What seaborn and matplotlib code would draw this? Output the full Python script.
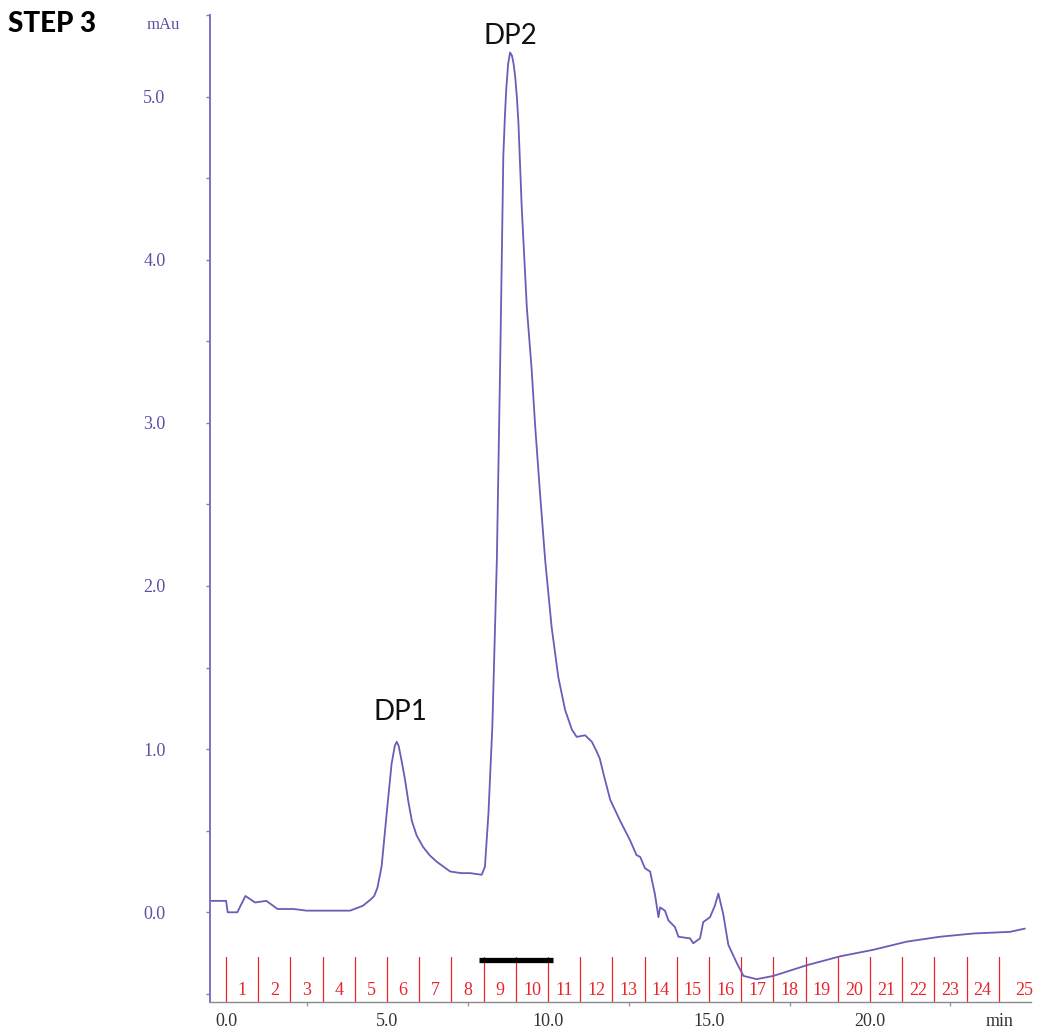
import matplotlib
matplotlib.use("Agg")
import matplotlib.pyplot as plt
import seaborn as sns
import pandas as pd

# Chromatogram trace: retention time (min) vs absorbance (mAu)
time_min = [-0.5, -0.05, 0.0, 0.05, 0.35, 0.6, 0.9, 1.25, 1.6, 2.1, 2.5, 3.0, 3.5, 3.85,
            4.25, 4.5, 4.6, 4.7, 4.83, 4.99, 5.14, 5.24, 5.30, 5.36, 5.45, 5.56, 5.66, 5.77,
            5.92, 6.12, 6.32, 6.54, 6.75, 6.96, 7.3, 7.58, 7.94, 8.04, 8.15, 8.27, 8.41,
            8.51, 8.54, 8.58, 8.61, 8.66, 8.70, 8.76, 8.82, 8.88, 8.93, 8.98, 9.03, 9.08,
            9.18, 9.34, 9.49, 9.60, 9.75, 9.91, 10.11, 10.32, 10.53, 10.74, 10.89, 11.15,
            11.36, 11.50, 11.61, 11.72, 11.93, 12.24, 12.55, 12.75, 12.86, 13.01, 13.17,
            13.32, 13.43, 13.48, 13.63, 13.74, 13.94, 14.05, 14.41, 14.51, 14.72, 14.82,
            15.03, 15.18, 15.29, 15.44, 15.60, 15.86, 16.07, 16.48, 17.0, 18.03, 19.07,
            20.1, 21.14, 22.17, 23.21, 24.35, 24.81]
absorbance = [0.07, 0.07, 0.07, 0.0, 0.0, 0.10, 0.06, 0.07, 0.02, 0.02, 0.01, 0.01, 0.01, 0.01,
              0.04, 0.08, 0.10, 0.15, 0.28, 0.61, 0.91, 1.02, 1.045, 1.02, 0.93, 0.81, 0.68, 0.56,
              0.47, 0.40, 0.35, 0.31, 0.28, 0.25, 0.24, 0.24, 0.23, 0.28, 0.61, 1.14, 2.16,
              3.33, 3.71, 4.23, 4.63, 4.88, 5.04, 5.20, 5.27, 5.25, 5.20, 5.12, 5.00, 4.84,
              4.33, 3.71, 3.33, 2.98, 2.57, 2.16, 1.75, 1.44, 1.24, 1.12, 1.075, 1.085,
              1.045, 0.99, 0.94, 0.85, 0.69, 0.56, 0.44, 0.35, 0.34, 0.27, 0.25,
              0.11, -0.03, 0.03, 0.01, -0.05, -0.09, -0.15, -0.16, -0.19, -0.16, -0.06,
              -0.03, 0.04, 0.115, -0.01, -0.20, -0.31, -0.39, -0.41, -0.39, -0.325, -0.27,
              -0.23, -0.18, -0.15, -0.13, -0.12, -0.10]

# Fraction collector boundaries (min) and fraction numbers
fraction_edges = list(range(0, 25)) + [25.6]
fraction_labels = [str(i) for i in range(1, 26)]

# Pooled fractions bar (min)
pool_start, pool_end = 7.85, 10.15

# Peak annotations: name, apex time, apex height
peak_names = ["DP1", "DP2"]
peak_times = [5.30, 8.82]
peak_heights = [1.045, 5.27]

x_ticks = [0.0, 5.0, 10.0, 15.0, 20.0]
y_ticks = [0.0, 1.0, 2.0, 3.0, 4.0, 5.0]

line_color = "#6a5cb8"
axis_purple = "#7f70c4"
label_purple = "#5a4fa6"
red = "#e8242c"
serif = ["Liberation Serif", "DejaVu Serif"]

sns.set_style("white")
fig = plt.figure(figsize=(10.37, 10.33), dpi=100)
ax = fig.add_axes([0.2025, 0.030, 0.7917, 0.9555])

df = pd.DataFrame({"time": time_min, "mAu": absorbance})
sns.lineplot(data=df, x="time", y="mAu", sort=False, estimator=None,
             color=line_color, linewidth=1.3, ax=ax)

ax.set_xlim(-0.5, 25.0)
ax.set_ylim(-0.55, 5.5)
ax.set_xlabel("")
ax.set_ylabel("")

for s in ["top", "right"]:
    ax.spines[s].set_visible(False)
ax.spines["left"].set_color(axis_purple)
ax.spines["left"].set_linewidth(1.4)
ax.spines["bottom"].set_color("#8a8a8a")
ax.spines["bottom"].set_linewidth(1.0)

ax.set_yticks(y_ticks)
ax.set_yticklabels([f"{v:.1f}" for v in y_ticks], fontfamily=serif, fontsize=13, color=label_purple)
ax.set_yticks([-0.5, 0.5, 1.5, 2.5, 3.5, 4.5, 5.5], minor=True)
ax.tick_params(axis="y", which="both", direction="out", length=3, width=1,
               color=axis_purple, pad=29, left=True)

ax.set_xticks(x_ticks)
ax.set_xticklabels([f"{v:.1f}" for v in x_ticks], fontfamily=serif, fontsize=13, color="#333333")
ax.set_xticks([2.5, 7.5, 12.5, 17.5, 22.5], minor=True)
ax.tick_params(axis="x", which="major", length=0, pad=8)
ax.tick_params(axis="x", which="minor", direction="out", length=3, width=1,
               color="#9a9a9a", bottom=True)
ax.grid(False)

# Fraction markers
for edge in fraction_edges[:-1]:
    ax.plot([edge, edge], [-0.55, -0.275], color=red, linewidth=0.9, zorder=1)
for i, lab in enumerate(fraction_labels):
    mid = (fraction_edges[i] + fraction_edges[i + 1]) / 2
    ax.text(mid, -0.48, lab, ha="center", va="center", color=red,
            fontfamily=serif, fontsize=13)

# Pooled fractions
ax.plot([pool_start, pool_end], [-0.293, -0.293], color="black", linewidth=3.8,
        solid_capstyle="butt", zorder=3)

# Peak labels above each apex
label_offsets = [(0.12, 0.18), (0.0, 0.10)]
for name, t, h, (dx, dy) in zip(peak_names, peak_times, peak_heights, label_offsets):
    ax.text(t + dx, h + dy, name, ha="center", va="center",
            fontfamily="Lato", fontsize=20, color="#111111")

fig.text(180 / 1037, 1 - 25 / 1033, "mAu", ha="right", va="center",
         fontfamily=serif, fontsize=12, color=label_purple)
fig.text(1000 / 1037, 1 - 1022 / 1033, "min", ha="center", va="center",
         fontfamily=serif, fontsize=13, color="#333333")
fig.text(8 / 1037, 1 - 24 / 1033, "STEP 3", ha="left", va="center",
         fontfamily="Lato", fontweight="black", fontsize=20, color="black")

fig.savefig("out.png", dpi=100, facecolor="white")
